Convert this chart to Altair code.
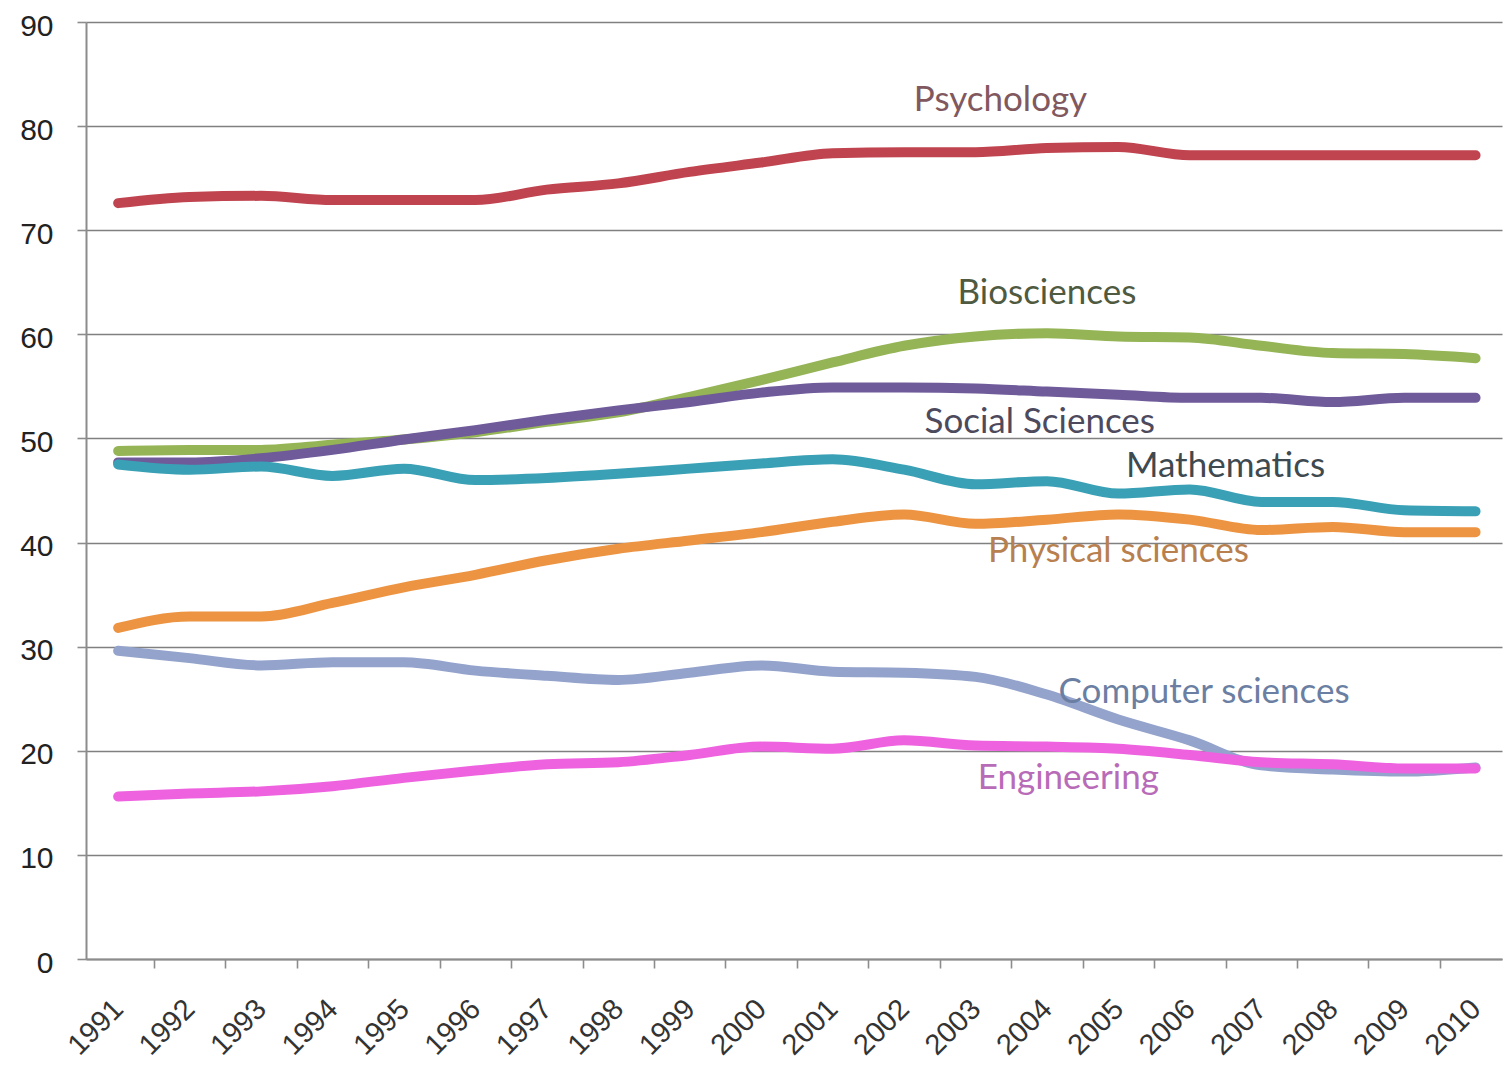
import altair as alt
import pandas as pd

years = list(range(1991, 2011))

series = ["Psychology", "Biosciences", "Social Sciences", "Mathematics",
          "Physical sciences", "Computer sciences", "Engineering"]

psychology = [72.6, 73.2, 73.3, 72.9, 72.9, 72.9, 73.9, 74.5, 75.6, 76.5,
              77.4, 77.5, 77.5, 77.9, 78.0, 77.2, 77.2, 77.2, 77.2, 77.2]
biosciences = [48.8, 48.9, 48.9, 49.4, 49.9, 50.6, 51.6, 52.5, 54.0, 55.6,
               57.3, 58.9, 59.8, 60.1, 59.8, 59.7, 58.9, 58.2, 58.1, 57.7]
social = [47.7, 47.7, 48.1, 48.9, 49.9, 50.8, 51.8, 52.7, 53.5, 54.4,
          54.9, 54.9, 54.8, 54.5, 54.2, 53.9, 53.9, 53.5, 53.9, 53.9]
mathematics = [47.5, 47.0, 47.3, 46.4, 47.1, 46.0, 46.2, 46.6, 47.1, 47.6,
               48.0, 47.0, 45.6, 45.9, 44.7, 45.1, 43.9, 43.9, 43.1, 43.0]
physical = [31.8, 32.9, 32.9, 34.2, 35.7, 36.9, 38.3, 39.4, 40.2, 41.0,
            42.0, 42.7, 41.8, 42.2, 42.7, 42.2, 41.2, 41.5, 41.0, 41.0]
computer = [29.6, 28.9, 28.2, 28.5, 28.5, 27.7, 27.2, 26.8, 27.5, 28.2,
            27.6, 27.5, 27.1, 25.4, 23.0, 21.0, 18.6, 18.2, 18.0, 18.4]
engineering = [15.6, 15.9, 16.1, 16.6, 17.4, 18.1, 18.7, 18.9, 19.6, 20.4,
               20.2, 21.0, 20.5, 20.4, 20.2, 19.6, 18.9, 18.7, 18.3, 18.3]

line_colors = ["#c0444f", "#94b455", "#6f5a9a", "#3aa0b5",
               "#ec9442", "#93a3cc", "#ee62e0"]
text_colors = ["#80585e", "#4f5a40", "#4d4a5e", "#3e4a50",
               "#b8804e", "#6b7fa3", "#b86cb8"]

# label anchor (in data units: year, percent)
label_year = [2003.35, 2004.0, 2003.9, 2006.5, 2005.0, 2006.2, 2004.3]
label_value = [82.5, 64.0, 51.6, 47.4, 39.2, 25.6, 17.4]

y_ticks = [0, 10, 20, 30, 40, 50, 60, 70, 80, 90]

values = [psychology, biosciences, social, mathematics, physical, computer, engineering]
rows = []
for s, vals in zip(series, values):
    for yr, v in zip(years, vals):
        rows.append({"series": s, "year": yr, "value": v, "ord": series.index(s)})
df = pd.DataFrame(rows)

lab = pd.DataFrame({"name": series, "lx": label_year, "ly": label_value})

band_edges = [y + 0.5 for y in years]

xscale = alt.Scale(domain=[1990.55, 2010.37], nice=False, zero=False)
yscale = alt.Scale(domain=[0, 90], nice=False)

yaxis = alt.Axis(values=y_ticks, grid=True, gridColor="#808080", gridWidth=1.6,
                 domain=True, domainColor="#8c8c8c", domainWidth=2,
                 tickSize=9, tickColor="#8c8c8c", tickWidth=1.6,
                 labelFont="Liberation Sans", labelFontSize=30,
                 labelColor="#222222", labelPadding=24, labelOffset=4,
                 title=None, orient="left")

lines = alt.Chart(df).mark_line(
    strokeWidth=10, interpolate="monotone", strokeCap="round", strokeJoin="round"
).encode(
    x=alt.X("year:Q", scale=xscale,
            axis=alt.Axis(values=years, format="d", labelAngle=-45, orient="bottom",
                          tickSize=0, grid=False, domain=True, domainColor="#8c8c8c",
                          domainWidth=2, labelFont="Liberation Sans", labelFontSize=29,
                          labelColor="#333333", labelPadding=45, labelAlign="right",
                          labelBaseline="middle", title=None)),
    y=alt.Y("value:Q", scale=yscale, axis=yaxis),
    color=alt.Color("series:N", scale=alt.Scale(domain=series, range=line_colors), legend=None),
    order=alt.Order("ord:Q"),
)

texts = alt.Chart(lab).mark_text(
    font="Lato", fontSize=35, align="center", baseline="middle"
).encode(
    x=alt.X("lx:Q", scale=xscale,
            axis=alt.Axis(values=band_edges, labels=False, orient="bottom", tickSize=9,
                          tickColor="#8c8c8c", tickWidth=1.6, domain=False, grid=False,
                          title=None)),
    y=alt.Y("ly:Q", scale=yscale, axis=yaxis),
    color=alt.Color("name:N", scale=alt.Scale(domain=series, range=text_colors), legend=None),
    text="name:N",
)

chart = alt.layer(lines, texts).resolve_scale(
    color="independent"
).resolve_axis(
    x="independent"
).properties(
    width=1416, height=937,
    autosize=alt.AutoSizeParams(type="none"),
    padding={"left": 86, "top": 22, "right": 2, "bottom": 115},
    background="white",
).configure_view(stroke=None)

chart.save("out.html", embed_options={"renderer": "svg", "actions": False})
